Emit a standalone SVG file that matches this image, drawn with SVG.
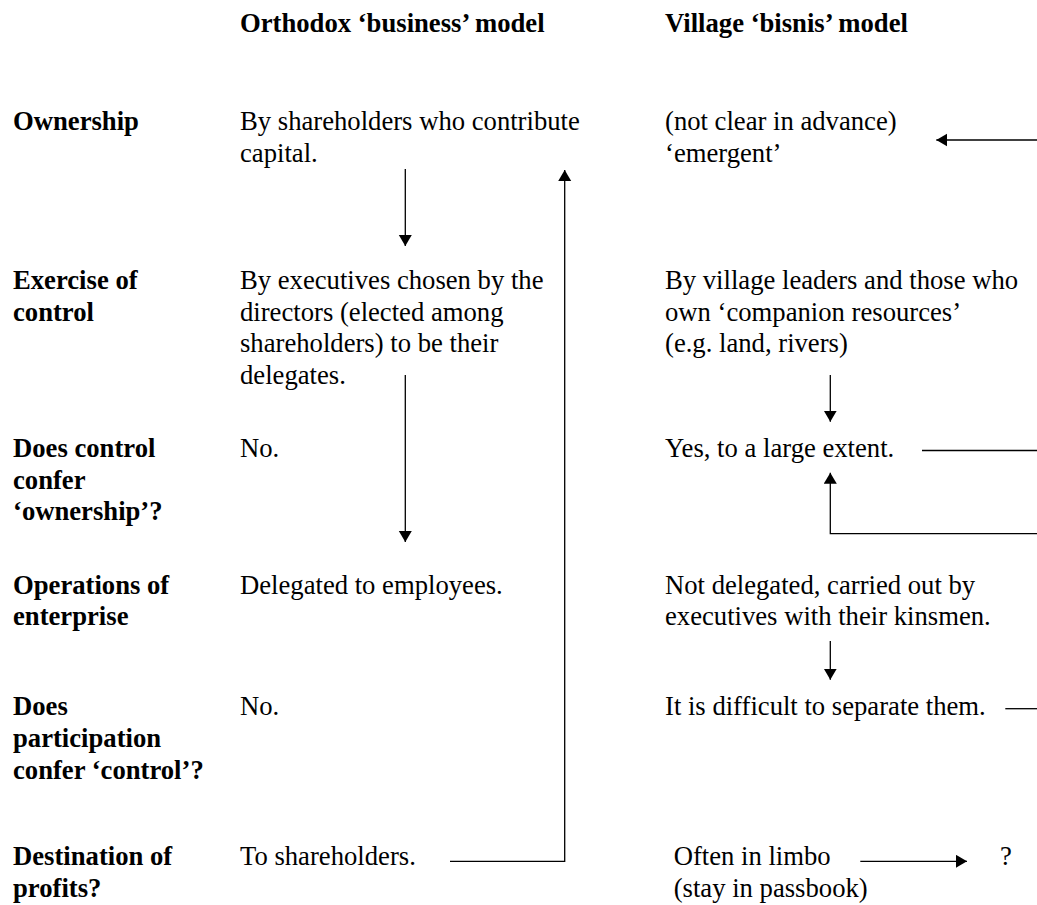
<svg xmlns="http://www.w3.org/2000/svg" width="1037" height="905" viewBox="0 0 1037 905">
<style>
text{font-family:"Liberation Serif","Times New Roman",serif;font-size:26.67px;fill:#000}
.b{font-weight:bold}
.ln{fill:none;stroke:#000;stroke-width:1.3}
.ar{marker-end:url(#ah)}
</style>
<defs>
<marker id="ah" markerUnits="userSpaceOnUse" markerWidth="12" markerHeight="14" refX="11" refY="6.5" orient="auto" viewBox="0 0 12 14">
<path d="M0,0 L11,6.5 L0,13 Z" fill="#000"/>
</marker>
</defs>
<g id="headers">
<text class="b" x="240" y="32">Orthodox ‘business’ model</text>
<text class="b" x="665" y="32">Village ‘bisnis’ model</text>
</g>
<g id="row-labels">
<text class="b" x="13" y="130">Ownership</text>
<text class="b" x="13" y="289">Exercise of</text>
<text class="b" x="13" y="320.6">control</text>
<text class="b" x="13" y="457">Does control</text>
<text class="b" x="13" y="488.6">confer</text>
<text class="b" x="13" y="520.2">‘ownership’?</text>
<text class="b" x="13" y="593.7">Operations of</text>
<text class="b" x="13" y="625.3">enterprise</text>
<text class="b" x="13" y="715.3">Does</text>
<text class="b" x="13" y="746.9">participation</text>
<text class="b" x="13" y="778.5">confer ‘control’?</text>
<text class="b" x="13" y="865.3">Destination of</text>
<text class="b" x="13" y="896.9">profits?</text>
</g>
<g id="orthodox-ownership"><text x="240" y="130">By shareholders who contribute</text><text x="240" y="161.6">capital.</text></g>
<g id="orthodox-control"><text x="240" y="289">By executives chosen by the</text><text x="240" y="320.6">directors (elected among</text><text x="240" y="352.2">shareholders) to be their</text><text x="240" y="383.8">delegates.</text></g>
<g id="orthodox-confer-ownership"><text x="240" y="457">No.</text></g>
<g id="orthodox-operations"><text x="240" y="593.7">Delegated to employees.</text></g>
<g id="orthodox-participation"><text x="240" y="715.3">No.</text></g>
<g id="orthodox-profits"><text x="240" y="865.3">To shareholders.</text></g>
<g id="village-ownership"><text x="665" y="130">(not clear in advance)</text><text x="665" y="161.6">‘emergent’</text></g>
<g id="village-control"><text x="665" y="289">By village leaders and those who</text><text x="665" y="320.6">own ‘companion resources’</text><text x="665" y="352.2">(e.g. land, rivers)</text></g>
<g id="village-confer-ownership"><text x="665" y="457">Yes, to a large extent.</text></g>
<g id="village-operations"><text x="665" y="593.7">Not delegated, carried out by</text><text x="665" y="625.3">executives with their kinsmen.</text></g>
<g id="village-participation"><text x="665" y="715.3">It is difficult to separate them.</text></g>
<g id="village-profits"><text x="673.7" y="865.3">Often in limbo</text><text x="673.7" y="896.9">(stay in passbook)</text></g>
<g id="unknown"><text x="1000" y="865.3">?</text></g>
<g id="connectors">
<path class="ln ar" d="M405.3,169 V246"/>
<path class="ln ar" d="M405.3,375 V542"/>
<path class="ln ar" d="M450,861.3 H564.7 V170"/>
<path class="ln ar" d="M1037,140 H936.3"/>
<path class="ln ar" d="M830.3,375 V421.7"/>
<path class="ln" d="M922,450.5 H1037"/>
<path class="ln ar" d="M1037,533.7 H830.3 V472.7"/>
<path class="ln ar" d="M830.3,641 V679.7"/>
<path class="ln" d="M1005.3,708.7 H1037"/>
<path class="ln ar" d="M860.3,861.3 H967"/>
</g>
</svg>
